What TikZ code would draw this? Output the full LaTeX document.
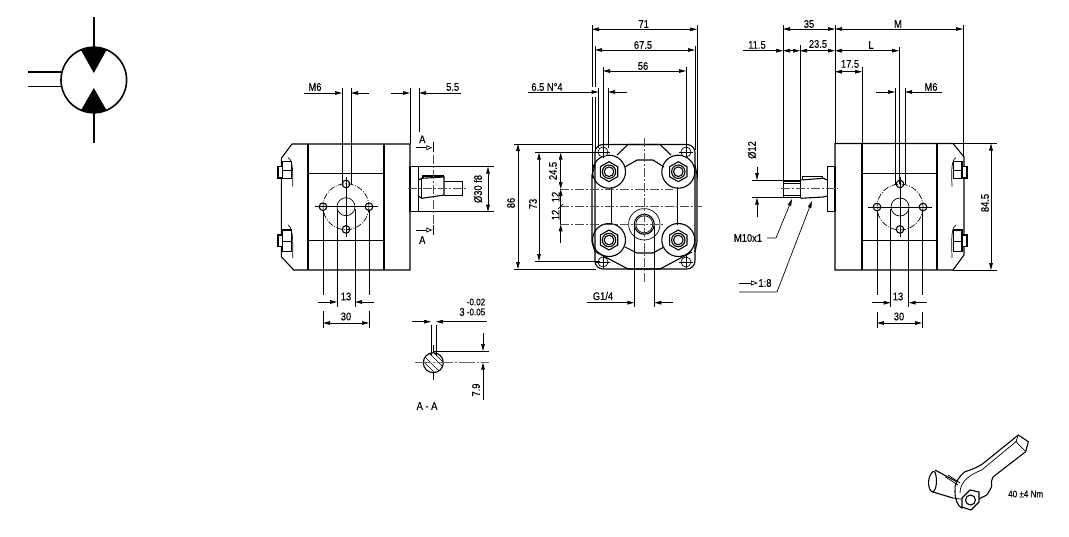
\documentclass[tikz,border=0pt]{standalone}
\usepackage{fontspec}
\setmainfont[FakeStretch=0.85,FakeBold=0.3]{Liberation Sans}
\usetikzlibrary{arrows.meta}

\begin{document}
\begin{tikzpicture}[x=1pt, y=-1pt,
    >={Stealth[length=7pt,width=3.6pt,inset=0pt]},
    outline/.style={line width=1.1pt},
    thin line/.style={line width=0.7pt},
    dimline/.style={line width=0.7pt},
    extline/.style={line width=0.7pt},
    axisline/.style={line width=0.8pt, black!70, dash pattern=on 9pt off 2pt on 2pt off 2pt},
    symline/.style={line width=1.6pt},
    dimtext/.style={inner sep=0pt, font=\fontsize{11}{12}\selectfont},
    smalltext/.style={inner sep=0pt, font=\fontsize{9.5}{10}\selectfont}]
    \useasboundingbox (0,0) rectangle (1069,536);

    % pump symbol
    \begin{scope}
        \clip (93.8,80) circle (32.8);
        \fill (76.5,42) -- (111,42) -- (93.8,73) -- cycle;
        \fill (76.5,118) -- (111,118) -- (93.8,88) -- cycle;
    \end{scope}
    \draw[symline] (93.8,80) circle (32.8);
    \draw[symline] (93.8,17) -- (93.8,47);
    \draw[symline] (93.8,113) -- (93.8,143);
    \draw[symline] (28,72) -- (61,72);
    \draw[symline] (28,86.5) -- (61,86.5);

    % left view
    \draw[outline] (410,144) -- (292,144) -- (281.3,158.3) -- (281.3,256.7) -- (293.7,270) -- (410,270) -- cycle;
    \draw[outline] (308,144) -- (308,270);
    \draw[outline] (384,144) -- (384,270);
    \draw[thin line] (308,173) -- (384,173);
    \draw[thin line] (308,240) -- (384,240);
    \draw[outline, fill=white] (282.7,161.7) rectangle (291.3,178.3);
    \draw[outline, fill=white] (278,166.7) rectangle (282.7,178);
    \draw[thin line] (282.7,170) -- (291.3,170);
    \draw[thin line] (288,157.7) .. controls (294,160) and (292.7,180) .. (292.7,186.7);
    \draw[outline, fill=white] (282.7,230) rectangle (291.3,251.7);
    \draw[outline, fill=white] (278,235) rectangle (282.7,246.7);
    \draw[thin line] (282.7,241) -- (291.3,241);
    \draw[thin line] (288,225) .. controls (294,227) and (292.7,250) .. (292.7,258);
    \draw[outline] (410,166.7) rectangle (418.3,211.7);
    \draw[outline] (418.3,180) -- (421.7,178.3) -- (444,177) -- (444,195) -- (421.7,198.3) -- (418.3,196);
    \draw[thin line] (421.7,178.3) -- (421.7,198.3);
    \draw[outline] (423,178) -- (423,176) -- (443,176) -- (443,177);
    \draw[outline] (444.3,181.7) -- (462.7,181.7) -- (462.7,195.7) -- (444.3,195.7);
    \draw[axisline] (408,188.3) -- (466,188.3);
    \draw[axisline] (433.3,155) -- (433.3,226.7);
    \draw[thin line] (346,206.7) circle (9);
    \draw[thin line, dash pattern=on 6pt off 1.5pt on 1pt off 1.5pt] (346,206.7) circle (23);
    \draw[thin line] (314.7,206.7) -- (378,206.7);
    \draw[thin line] (346,177) -- (346,237);
    \draw[outline] (346,184) circle (3.8);
    \draw[outline] (346,229.4) circle (3.8);
    \draw[outline] (323,206.7) circle (3.8);
    \draw[outline] (369,206.7) circle (3.8);

    \draw[extline] (342,88) -- (342,184);
    \draw[extline] (351,88) -- (351,184);
    \draw[dimline,->] (304,93) -- (342,93);
    \draw[dimline,->] (369,93) -- (351,93);
    \node[dimtext] (mSixLeft) at (315,87) {M6};
    \draw[extline] (410,88) -- (410,144);
    \draw[extline] (419,88) -- (419,132);
    \draw[dimline,->] (391,93) -- (410,93);
    \draw[dimline,->] (461,93) -- (419,93);
    \node[dimtext] (fiveFive) at (452.7,87) {5.5};
    \draw[thin line, -{Stealth[open,length=6pt,width=5pt,inset=0pt]}] (415.7,147.7) -- (432.3,147.7);
    \draw[extline] (433.3,141.7) -- (433.3,152);
    \node[dimtext] (aTop) at (422.3,139.3) {A};
    \draw[thin line, -{Stealth[open,length=6pt,width=5pt,inset=0pt]}] (415.7,230) -- (432.3,230);
    \draw[extline] (433.3,225) -- (433.3,235);
    \node[dimtext] (aBottom) at (422.3,240) {A};
    \draw[extline] (418.3,166.7) -- (494,166.7);
    \draw[extline] (418.3,211.7) -- (494,211.7);
    \draw[dimline,<->] (488,166.7) -- (488,211.7);
    \node[dimtext, rotate=90] (dThirty) at (478,189) {Ø30 f8};
    \draw[extline] (337,209) -- (337,307);
    \draw[extline] (355,209) -- (355,307);
    \draw[dimline,->] (318,302) -- (337,302);
    \draw[dimline,->] (374,302) -- (355,302);
    \node[dimtext] (thirteenLeft) at (346,296.5) {13};
    \draw[extline] (323,210) -- (323,295);
    \draw[extline] (369,210) -- (369,295);
    \draw[extline] (323,311) -- (323,328);
    \draw[extline] (369,311) -- (369,328);
    \draw[dimline,<->] (323,323) -- (369,323);
    \node[dimtext] (thirtyLeft) at (346,316.5) {30};

    % section A-A
    \draw[outline] (433.3,362.7) circle (10);
    \begin{scope}
        \clip (433.3,362.7) circle (10);
        \draw[thin line] (420,352) -- (445,377);
        \draw[thin line] (420,358) -- (440,378);
        \draw[thin line] (426,350) -- (447,371);
        \draw[thin line] (431,350) -- (447,366);
    \end{scope}
    \draw[extline] (431,325) -- (431,356);
    \draw[extline] (436,325) -- (436,356);
    \draw[extline] (433.3,345) -- (433.3,352);
    \draw[extline] (433.3,372) -- (433.3,380);
    \draw[dimline,->] (412,321.7) -- (431,321.7);
    \draw[dimline,->] (487,321.7) -- (436,321.7);
    \node[dimtext] (keyThree) at (462,312) {3};
    \node[smalltext] (keyUpper) at (476,302) {-0.02};
    \node[smalltext] (keyLower) at (476,312) {-0.05};
    \draw[extline] (433.3,351) -- (489,351);
    \draw[line width=1.1pt, black!60, dash pattern=on 16pt off 2pt on 2pt off 2pt] (415,362.7) -- (489,362.7);
    \draw[dimline,->] (483,333) -- (483,351);
    \draw[dimline,->] (483,400) -- (483,362.7);
    \node[dimtext, rotate=90] (sevenNine) at (476,390) {7.9};
    \node[dimtext] (sectionName) at (427,406) {A - A};

    % front view
    \draw[outline, rounded corners=8pt] (595,144.5) rectangle (695,269);
    \draw[outline] (595,165) -- (592,175) -- (592,242) -- (595,252);
    \draw[outline] (695,165) -- (697,175) -- (697,242) -- (695,252);
    \draw[outline] (609,171.7) circle (16.5);
    \draw[outline] (678.3,171.7) circle (16.5);
    \draw[outline] (609,240) circle (16.5);
    \draw[outline] (678.3,240) circle (16.5);
    \draw[outline, fill=white] (600.3,166.7) -- (609,161.7) -- (617.7,166.7) -- (617.7,176.7) -- (609,181.7) -- (600.3,176.7) -- cycle;
    \draw[outline, fill=white] (669.6,166.7) -- (678.3,161.7) -- (687,166.7) -- (687,176.7) -- (678.3,181.7) -- (669.6,176.7) -- cycle;
    \draw[outline, fill=white] (600.3,235) -- (609,230) -- (617.7,235) -- (617.7,245) -- (609,250) -- (600.3,245) -- cycle;
    \draw[outline, fill=white] (669.6,235) -- (678.3,230) -- (687,235) -- (687,245) -- (678.3,250) -- (669.6,245) -- cycle;
    \draw[outline] (609,171.7) circle (6.7);
    \draw[outline] (609,171.7) circle (4.8);
    \draw[outline] (678.3,171.7) circle (6.7);
    \draw[outline] (678.3,171.7) circle (4.8);
    \draw[outline] (609,240) circle (6.7);
    \draw[outline] (609,240) circle (4.8);
    \draw[outline] (678.3,240) circle (6.7);
    \draw[outline] (678.3,240) circle (4.8);
    \draw[thin line, fill=white] (603,152) circle (5);
    \draw[thin line, fill=white] (686,152) circle (5);
    \draw[thin line, fill=white] (603,262) circle (5);
    \draw[thin line, fill=white] (686,262) circle (5);
    \draw[thin line] (596,152) -- (610,152);
    \draw[thin line] (603,146) -- (603,158);
    \draw[thin line] (679,152) -- (693,152);
    \draw[thin line] (686,146) -- (686,158);
    \draw[thin line] (596,262) -- (610,262);
    \draw[thin line] (603,255) -- (603,268);
    \draw[thin line] (679,262) -- (693,262);
    \draw[thin line] (686,255) -- (686,268);
    \draw[outline] (617,155) -- (628,144.5) -- (660,144.5) -- (671,155);
    \draw[outline] (625,167) -- (637,160) -- (653,160) -- (664,167);
    \draw[outline] (625,247) -- (637,253) -- (653,253) -- (664,247);
    \draw[outline] (596,252) -- (628,269) -- (660,269) -- (692,252);
    \draw[thin line] (611.7,187) -- (611.7,225);
    \draw[thin line] (677.7,187) -- (677.7,225);
    \draw[thin line] (644.3,224.3) circle (15.7);
    \draw[outline] (644.3,224.3) circle (10);
    \draw[thin line] (644.3,224.3) circle (8.5);
    \draw[axisline] (644.3,138) -- (644.3,282);
    \draw[axisline] (560,189) -- (673,189);
    \draw[axisline] (560,206.7) -- (702,206.7);
    \draw[axisline] (560,224.3) -- (665,224.3);

    \draw[extline] (592,25) -- (592,87);
    \draw[extline] (592,97) -- (592,178);
    \draw[extline] (697,25) -- (697,178);
    \draw[dimline,<->] (592,29.3) -- (697,29.3);
    \node[dimtext] (seventyOne) at (643.7,24) {71};
    \draw[extline] (595,46) -- (595,87);
    \draw[extline] (595,97) -- (595,150);
    \draw[extline] (695,46) -- (695,150);
    \draw[dimline,<->] (595,50) -- (695,50);
    \node[dimtext] (sixtySeven) at (643,45) {67.5};
    \draw[extline] (603,67) -- (603,152);
    \draw[extline] (686,67) -- (686,152);
    \draw[dimline,<->] (603,71) -- (686,71);
    \node[dimtext] (fiftySix) at (643,66) {56};
    \draw[extline] (598.5,88) -- (598.5,148);
    \draw[extline] (608,88) -- (608,148);
    \draw[dimline,->] (528,92) -- (598.5,92);
    \draw[dimline,->] (627,92) -- (608,92);
    \node[dimtext] (holeSize) at (547,87) {6.5 N°4};
    \draw[extline] (514,144) -- (592,144);
    \draw[extline] (514,269) -- (596,269);
    \draw[dimline,<->] (518,144) -- (518,269);
    \node[dimtext, rotate=90] (eightySix) at (511,203) {86};
    \draw[extline] (535,152.7) -- (600,152.7);
    \draw[extline] (535,261) -- (600,261);
    \draw[dimline,<->] (539,152.7) -- (539,261);
    \node[dimtext, rotate=90] (seventyThree) at (533,204) {73};
    \draw[dimline,<->] (560.7,152.7) -- (560.7,189);
    \draw[dimline,->] (560.7,206.7) -- (560.7,189);
    \draw[dimline,->] (560.7,243) -- (560.7,224.3);
    \draw[dimline] (560.7,206.7) -- (560.7,224.3);
    \draw[dimline] (558,209) -- (563,204);
    \node[dimtext, rotate=90] (twentyFour) at (553,171) {24.5};
    \node[dimtext, rotate=90] (twelveUp) at (555.6,197) {12};
    \node[dimtext, rotate=90] (twelveDown) at (555.6,215) {12};
    \draw[extline] (634.3,226) -- (634.3,307);
    \draw[extline] (654.3,226) -- (654.3,307);
    \draw[dimline,->] (587,302.7) -- (634.3,302.7);
    \draw[dimline,->] (673,302.7) -- (654.3,302.7);
    \node[dimtext] (portSize) at (603,296) {G1/4};

    % right view
    \draw[outline] (835,143.5) -- (953,143.5) -- (964,157) -- (964,255) -- (953,270) -- (835,270) -- cycle;
    \draw[outline] (862,143.5) -- (862,270);
    \draw[outline] (937,143.5) -- (937,270);
    \draw[thin line] (862,173) -- (937,173);
    \draw[thin line] (862,240) -- (937,240);
    \draw[outline, fill=white] (953.5,161.7) rectangle (962,178.3);
    \draw[outline, fill=white] (962,166.7) rectangle (967,178);
    \draw[thin line] (953.5,170) -- (962,170);
    \draw[thin line] (956,157.7) .. controls (950,160) and (952,180) .. (952,186.7);
    \draw[outline, fill=white] (953.5,230) rectangle (962,251.7);
    \draw[outline, fill=white] (962,235) rectangle (967,246.7);
    \draw[thin line] (953.5,241) -- (962,241);
    \draw[thin line] (956,225) .. controls (950,227) and (952,250) .. (952,258);
    \draw[outline] (827.3,166.7) rectangle (835,211.7);
    \draw[outline] (800.7,180) -- (823.3,178.3) -- (827.3,180);
    \draw[outline] (800.7,198.3) -- (823.3,197) -- (827.3,196);
    \draw[outline] (802.7,178.8) -- (802.7,176.7) -- (822.7,176.7) -- (822.7,178.3);
    \draw[outline] (783.3,181) rectangle (800.7,197.7);
    \draw[thin line] (783.3,183) -- (800.7,183);
    \draw[thin line] (783.3,195.5) -- (800.7,195.5);
    \draw[axisline] (781,188.7) -- (838,188.7);
    \draw[thin line] (900,207) circle (9);
    \draw[thin line, dash pattern=on 6pt off 1.5pt on 1pt off 1.5pt] (900,207) circle (23);
    \draw[thin line] (868,207) -- (932,207);
    \draw[thin line] (900,177) -- (900,237);
    \draw[outline] (900,184) circle (3.8);
    \draw[outline] (900,229.4) circle (3.8);
    \draw[outline] (877,207) circle (3.8);
    \draw[outline] (923,207) circle (3.8);

    \draw[extline] (783,25) -- (783,180);
    \draw[extline] (835,25) -- (835,143.5);
    \draw[dimline,<->] (783,29) -- (835,29);
    \node[dimtext] (thirtyFive) at (809,24) {35};
    \draw[extline] (963,25) -- (963,157);
    \draw[dimline,<->] (835,29) -- (963,29);
    \node[dimtext] (lenM) at (898,24) {M};
    \draw[dimline,->] (743,50.7) -- (783,50.7);
    \node[dimtext] (elevenFive) at (757,45) {11.5};
    \draw[extline] (800,45) -- (800,180);
    \draw[dimline,<->] (783,50.7) -- (800,50.7);
    \draw[dimline,<->] (800,50.7) -- (835,50.7);
    \node[dimtext] (twentyThree) at (818,44) {23.5};
    \draw[dimline,<->] (835,50.7) -- (899,50.7);
    \node[dimtext] (lenL) at (871,45) {L};
    \draw[extline] (899,47) -- (899,184);
    \draw[extline] (862,67) -- (862,143.5);
    \draw[dimline,<->] (835,71.7) -- (862,71.7);
    \node[dimtext] (seventeen) at (850,64) {17.5};
    \draw[extline] (895,88) -- (895,184);
    \draw[extline] (905,88) -- (905,184);
    \draw[dimline,->] (876,92) -- (895,92);
    \draw[dimline,->] (942,92) -- (905,92);
    \node[dimtext] (mSixRight) at (931,87) {M6};
    \draw[extline] (953,143.5) -- (997,143.5);
    \draw[extline] (953,270) -- (997,270);
    \draw[dimline,<->] (991,143.5) -- (991,270);
    \node[dimtext, rotate=90] (eightyFour) at (985,203) {84.5};
    \draw[extline] (890.7,209) -- (890.7,307);
    \draw[extline] (908.7,209) -- (908.7,307);
    \draw[dimline,->] (872,302.7) -- (890.7,302.7);
    \draw[dimline,->] (927,302.7) -- (908.7,302.7);
    \node[dimtext] (thirteenRight) at (898,296.5) {13};
    \draw[extline] (877,210) -- (877,295);
    \draw[extline] (922,210) -- (922,295);
    \draw[extline] (877,312) -- (877,328);
    \draw[extline] (922,312) -- (922,328);
    \draw[dimline,<->] (877,323) -- (922,323);
    \node[dimtext] (thirtyRight) at (899,316.5) {30};
    \draw[extline] (752,180) -- (783,180);
    \draw[extline] (752,197.7) -- (783,197.7);
    \draw[dimline,->] (757,167) -- (757,180);
    \draw[dimline,->] (757,217) -- (757,197.7);
    \node[dimtext, rotate=90] (dTwelve) at (752,150) {Ø12};
    \node[dimtext] (threadSize) at (748,238) {M10x1};
    \draw[dimline,->] (767,238) -- (776,238) -- (792,199);
    \draw[thin line, -{Stealth[open,length=7pt,width=5pt,inset=0pt]}] (739,283) -- (758,283);
    \node[dimtext] (taperRatio) at (765,283) {1:8};
    \draw[dimline,->] (739,292) -- (777,292) -- (812,201);

    % wrench
    \draw[outline] (1018.3,435) -- (983.3,463.3) .. controls (977,468) and (970,470) .. (965,471.7)
        .. controls (958,477) and (954,485) .. (955,491.7) .. controls (955,500) and (958,506) .. (961.7,508)
        -- (986.7,495) .. controls (990,490) and (992,487) .. (991.7,485)
        .. controls (991,481) and (992,479) .. (993.3,476.7) -- (1025.7,451.7) -- (1028.3,441.7) -- cycle;
    \draw[thin line] (1018.3,435) -- (1016,441.7) -- (1025.7,451.7);
    \draw[thin line] (1016,441.7) -- (981.7,470) .. controls (972,474) and (960,480) .. (960,493);
    \draw[outline] (931.7,473) .. controls (927,478) and (928,490) .. (932,491.7)
        .. controls (936,493) and (938,480) .. (935,472) .. controls (934,470) and (932,472) .. (931.7,473);
    \draw[outline] (935,470) -- (956.7,481.7);
    \draw[outline] (932,491.7) -- (953,498);
    \draw[thin line] (945,476.7) -- (958,485);
    \draw[thin line] (948,475) -- (960,483);
    \draw[thin line] (953,498) -- (968,500);
    \draw[outline, fill=white] (962,498) -- (970,490) -- (979,492) -- (979,502) -- (971,510) -- (962,507) -- cycle;
    \draw[outline] (970.5,500) circle (5);
    \node[smalltext] (torque) at (1025.7,494) {40 ±4 Nm};
\end{tikzpicture}
\end{document}
